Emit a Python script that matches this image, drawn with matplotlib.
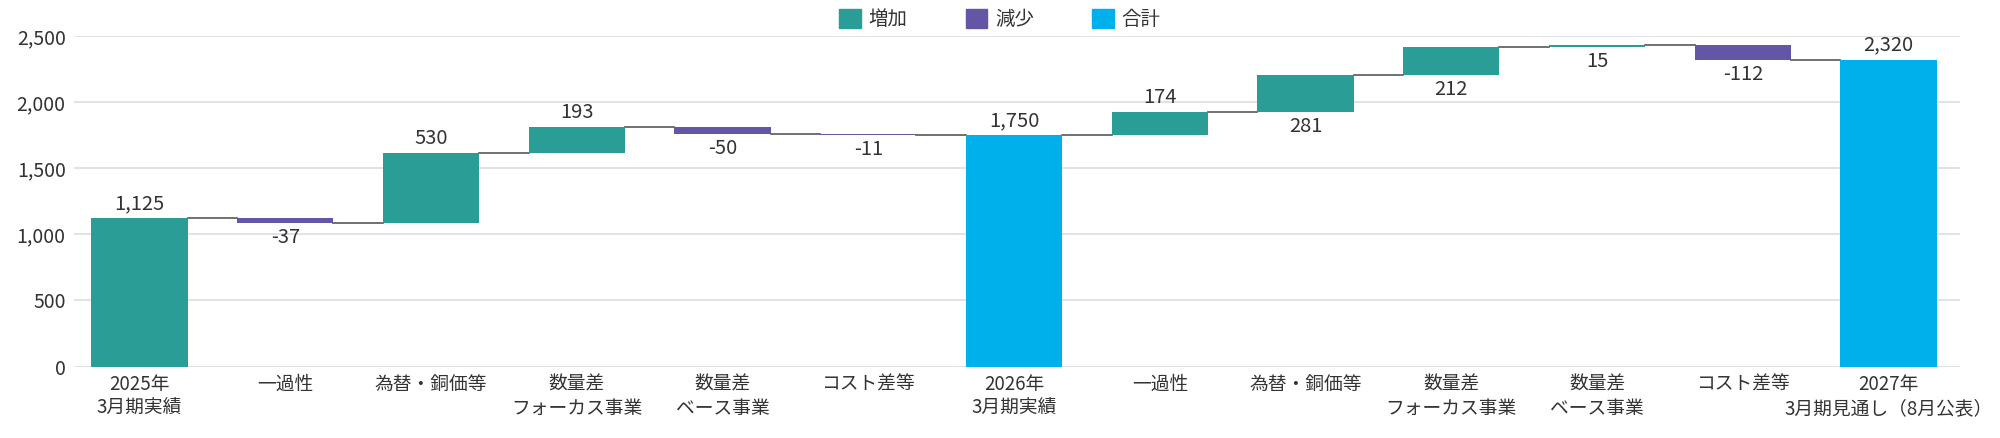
import matplotlib.pyplot as plt
from matplotlib.patches import Patch
from matplotlib.ticker import FuncFormatter

plt.rcParams['font.family'] = ['Noto Sans CJK JP', 'DejaVu Sans']

labels = ["2025年\n3月期実績", "一過性", "為替・銅価等", "数量差\nフォーカス事業", "数量差\nベース事業", "コスト差等",
          "2026年\n3月期実績", "一過性", "為替・銅価等", "数量差\nフォーカス事業", "数量差\nベース事業", "コスト差等",
          "2027年\n3月期見通し（8月公表）"]
values = [1125, -37, 530, 193, -50, -11, 1750, 174, 281, 212, 15, -112, 2320]
# "start" = base bar from zero, "step" = change, "total" = subtotal
kinds = ["start", "step", "step", "step", "step", "step", "total",
         "step", "step", "step", "step", "step", "total"]

c_up = "#2a9d97"
c_down = "#6356a6"
c_total = "#00b0ea"
txt = "#333333"

fig = plt.figure(figsize=(20, 4.38), dpi=100)
ax = fig.add_axes([0.037, 0.163, 0.943, 0.755])

w = 0.66
level = 0
ends = []
for i, v in enumerate(values):
    if kinds[i] in ("start", "total"):
        bottom, height = 0, v
        color = c_up if kinds[i] == "start" else c_total
        level = v
        top = v
        above = True
    else:
        bottom = level if v >= 0 else level + v
        height = abs(v)
        color = c_up if v >= 0 else c_down
        level = level + v
        top = bottom + height
        above = v >= 0 and top < 2000
    ax.bar(i, height, bottom=bottom, width=w, color=color, zorder=3)
    ends.append(level)
    lab = f"{v:,}"
    if above:
        ax.text(i, top + 30, lab, ha="center", va="bottom", fontsize=14.5, color=txt)
    else:
        ax.text(i, bottom - 30, lab, ha="center", va="top", fontsize=14.5, color=txt)

# connectors
for i in range(len(values) - 1):
    ax.plot([i + w / 2, i + 1 - w / 2], [ends[i], ends[i]], color="#666666", lw=1.3, zorder=2)

ax.set_xlim(-0.45, 12.49)
ax.set_ylim(0, 2500)
ax.set_yticks([0, 500, 1000, 1500, 2000, 2500])
ax.yaxis.set_major_formatter(FuncFormatter(lambda x, p: f"{int(x):,}"))
ax.set_xticks(range(len(labels)))
ax.set_xticklabels(labels, fontsize=13.5, color=txt, linespacing=1.2)
ax.tick_params(axis="y", labelsize=14, colors=txt, length=0, pad=6)
ax.tick_params(axis="x", length=0, pad=5)
ax.grid(axis="y", color="#dddddd", lw=1.2, zorder=0)
for s in ax.spines.values():
    s.set_visible(False)

handles = [Patch(color=c_up, label="増加"), Patch(color=c_down, label="減少"), Patch(color=c_total, label="合計")]
fig.legend(handles=handles, loc="center", bbox_to_anchor=(0.5, 0.955), ncol=3, frameon=False,
           fontsize=14, handlelength=1.1, handleheight=1.1, columnspacing=3, handletextpad=0.4,
           labelcolor=txt)

fig.savefig("out.png", dpi=100)
